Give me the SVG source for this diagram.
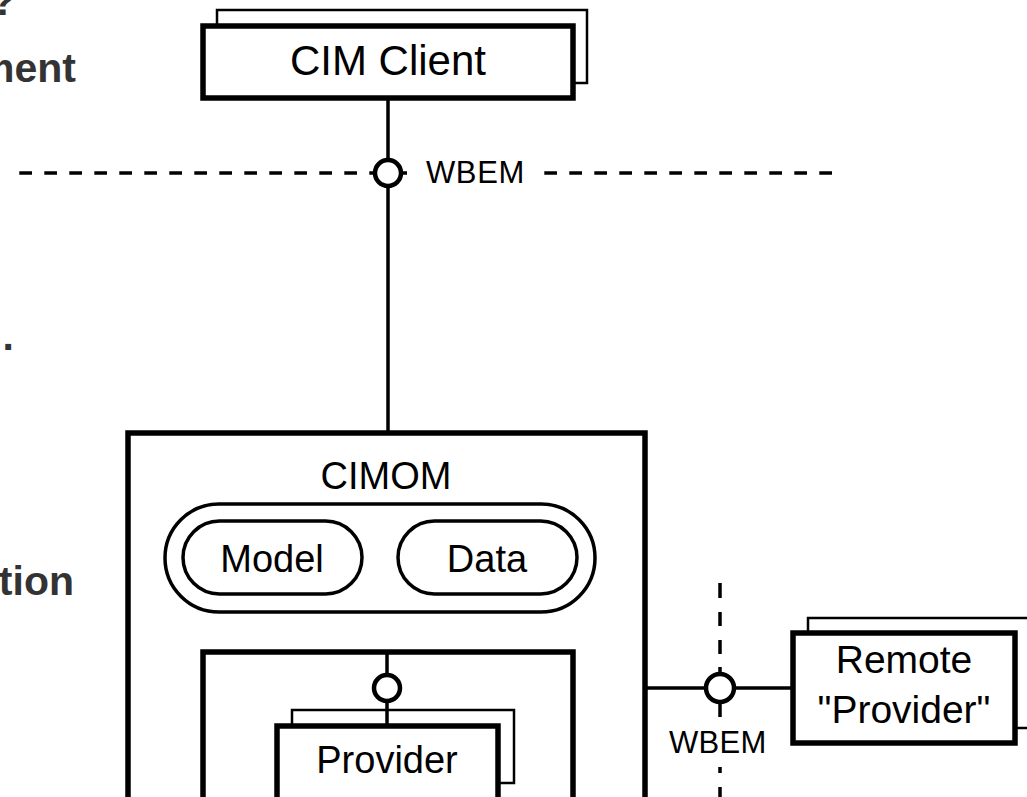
<svg xmlns="http://www.w3.org/2000/svg" width="1027" height="797" viewBox="0 0 1027 797">
<style>
.back{fill:#fff;stroke:#000;stroke-width:2.5}
.front{fill:#fff;stroke:#000;stroke-width:5.5}
.caps{fill:#fff;stroke:#000;stroke-width:3.5}
.conn{fill:none;stroke:#000;stroke-width:3.5}
.dash{fill:none;stroke:#000;stroke-width:3.5}
.lolli{fill:#fff;stroke:#000;stroke-width:4.5}
.lbl{font-family:"Liberation Sans",Arial,Helvetica,sans-serif;fill:#000}
.side{font-family:"Liberation Sans",Arial,Helvetica,sans-serif;font-weight:bold;fill:#333;font-size:41px}
.bg{fill:#fff;stroke:none}
</style>
<rect width="1027" height="797" fill="#fff"/>
<g id="side-labels">
<text class="side" x="-9" y="15">?</text>
<text class="side" x="76" y="82" text-anchor="end">ment</text>
<text class="side" x="14" y="350" text-anchor="end">.</text>
<text class="side" x="74" y="595" text-anchor="end">tion</text>
</g>
<g id="boundaries">
<line class="dash" x1="19.3" y1="173" x2="832" y2="173" stroke-dasharray="12.7 12.3"/>
<rect class="bg" x="419" y="157" width="121" height="32"/>
<text class="lbl" x="426" y="183" font-size="31" letter-spacing="0.6">WBEM</text>
</g>
<g id="cim-client">
<rect class="back" x="217" y="10" width="370" height="73"/>
<rect class="front" x="203" y="26" width="370" height="72"/>
<text class="lbl" x="388" y="75" font-size="42" text-anchor="middle">CIM Client</text>
</g>
<g id="cimom">
<rect class="front" x="128" y="433" width="517" height="420"/>
<text class="lbl" x="386" y="489" font-size="38" text-anchor="middle">CIMOM</text>
<rect class="caps" x="165" y="504" width="430" height="108" rx="54"/>
</g>
<g id="model">
<rect class="caps" x="183" y="521" width="179" height="73" rx="36.5"/>
<text class="lbl" x="272" y="572" font-size="38" text-anchor="middle">Model</text>
</g>
<g id="data">
<rect class="caps" x="398" y="521" width="179" height="73" rx="36.5"/>
<text class="lbl" x="487" y="572" font-size="38" text-anchor="middle">Data</text>
</g>
<g id="provider-container">
<rect class="front" x="203" y="652" width="370" height="200"/>
</g>
<g id="provider">
<rect class="back" x="292" y="710" width="222" height="73"/>
<rect class="front" x="277" y="726" width="221" height="120"/>
<text class="lbl" x="387" y="773" font-size="38" text-anchor="middle">Provider</text>
</g>
<g id="remote-provider">
<rect class="back" x="808" y="618" width="240" height="110"/>
<rect class="front" x="793" y="633" width="222" height="110"/>
<text class="lbl" x="904" y="673" font-size="39" text-anchor="middle">Remote</text>
<text class="lbl" x="904" y="723" font-size="39" text-anchor="middle">"Provider"</text>
</g>
<g id="connectors">
<line class="conn" x1="388" y1="98" x2="388" y2="433"/>
<circle class="lolli" cx="388" cy="173" r="13"/>
<line class="conn" x1="387" y1="652" x2="387" y2="726"/>
<circle class="lolli" cx="387" cy="688" r="13"/>
<path class="dash" d="M720 583V598M720 612V626M720 640V654M720 667V681M720 703V717M720 759V773M720 787V801"/>
<rect class="bg" x="664" y="719" width="108" height="48"/>
<text class="lbl" x="669" y="753" font-size="31" letter-spacing="0.3">WBEM</text>
<line class="conn" x1="645" y1="688" x2="793" y2="688"/>
<circle class="lolli" cx="720" cy="688" r="14"/>
</g>
</svg>
